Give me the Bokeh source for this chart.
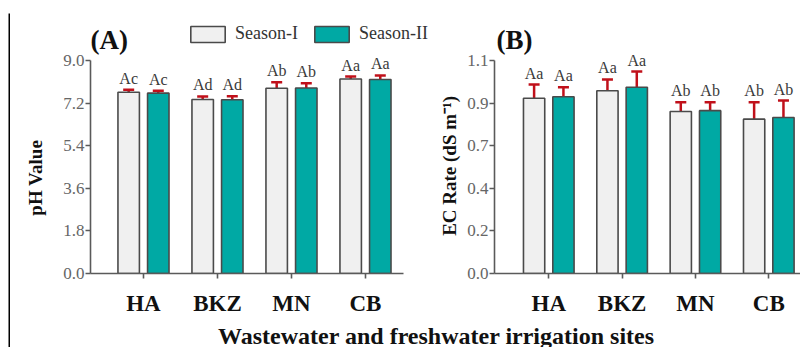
from bokeh.plotting import figure
from bokeh.models import (ColumnDataSource, FixedTicker, NumeralTickFormatter, Whisker,
                          TeeHead, Legend, LegendItem, Label, Range1d, Spacer)
from bokeh.layouts import row, column
from bokeh.embed import file_html
from bokeh.resources import INLINE
from bokeh.core.properties import value

# ---------------- data ----------------
sites = ["HA", "BKZ", "MN", "CB"]
site_pos = [1, 2, 3, 4]
season_names = ["Season-I", "Season-II"]

ph_s1 = [7.66, 7.35, 7.83, 8.22]
ph_s1_err = [0.10, 0.13, 0.25, 0.10]
ph_s2 = [7.62, 7.34, 7.84, 8.20]
ph_s2_err = [0.10, 0.15, 0.20, 0.17]
ph_letters = ["Ac", "Ad", "Ab", "Aa"]

ec_s1 = [0.905, 0.944, 0.837, 0.797]
ec_s1_err = [0.071, 0.058, 0.047, 0.087]
ec_s2 = [0.913, 0.962, 0.841, 0.806]
ec_s2_err = [0.049, 0.081, 0.043, 0.087]
ec_letters = ["Aa", "Aa", "Ab", "Ab"]

ph_ticks = [0.0, 1.8, 3.6, 5.4, 7.2, 9.0]
ec_ticks = [0.0, 0.22, 0.44, 0.66, 0.88, 1.1]

# ---------------- style ----------------
SERIF = "Liberation Serif"
C1 = "#f0f0f0"
C2 = "#00a9a4"
EDGE = "#4a4a4a"
ERR = "#c0101a"
AXC = "#5a5a5a"
OFF = 0.2
BW = 0.29
NB = "\u00a0"
FRAME_PX = 258.0   # frame height (figure top to x axis)
AXIS_PX = 213.0    # length of y axis line


def make_panel(s1, e1, s2, e2, letters, ticks, ymax, xstart, xend, xbound,
               width, left, tag, tag_x, ylabel, ylab_standoff):
    p = figure(width=width, height=303, output_backend="svg", toolbar_location=None,
               x_range=Range1d(xstart, xend),
               y_range=Range1d(0, ymax * FRAME_PX / AXIS_PX),
               min_border_left=left, min_border_right=0, min_border_top=0,
               min_border_bottom=45)
    p.outline_line_color = None
    p.xgrid.visible = False
    p.ygrid.visible = False
    renderers = []
    for vals, errs, off, col in ((s1, e1, -OFF, C1), (s2, e2, OFF, C2)):
        src = ColumnDataSource(dict(
            xd=[x + off for x in site_pos], top=vals,
            upper=[v + e for v, e in zip(vals, errs)], letter=letters))
        r = p.vbar(x="xd", top="top", width=BW, source=src, fill_color=col,
                   line_color=EDGE, line_width=1.6)
        renderers.append(r)
        w = Whisker(source=src, base="xd", lower="top", upper="upper",
                    dimension="height", line_color=ERR, line_width=2.5,
                    upper_head=TeeHead(size=11, line_color=ERR, line_width=2.5),
                    lower_head=None)
        p.add_layout(w)
        p.text(x="xd", y="upper", text="letter", source=src, text_align="center",
               text_baseline="bottom", y_offset=-3, text_font=value(SERIF),
               text_font_size="16px", text_color="#3a3a3a")

    # axes
    p.yaxis.ticker = FixedTicker(ticks=ticks)
    p.yaxis.formatter = NumeralTickFormatter(format="0.0")
    p.yaxis.bounds = (0, ymax)
    p.xaxis.ticker = FixedTicker(ticks=site_pos)
    p.xaxis.major_label_overrides = {pos: s for pos, s in zip(site_pos, sites)}
    p.xaxis.bounds = (xstart, xbound)
    for ax in (p.xaxis[0], p.yaxis[0]):
        ax.axis_line_color = AXC
        ax.axis_line_width = 1.6
        ax.major_tick_line_color = AXC
        ax.major_tick_line_width = 1.6
        ax.major_tick_in = 0
        ax.major_tick_out = 5
        ax.minor_tick_line_color = None
    p.yaxis.major_label_text_font = SERIF
    p.yaxis.major_label_text_font_size = "17px"
    p.yaxis.major_label_text_color = "#666666"
    p.yaxis.major_label_standoff = 1
    p.yaxis.axis_label = ylabel
    p.yaxis.axis_label_text_font = SERIF
    p.yaxis.axis_label_text_font_style = "bold"
    p.yaxis.axis_label_text_font_size = "19px"
    p.yaxis.axis_label_text_color = "#111111"
    p.yaxis.axis_label_standoff = ylab_standoff
    p.xaxis.major_label_text_font = SERIF
    p.xaxis.major_label_text_font_style = "bold"
    p.xaxis.major_label_text_font_size = "23px"
    p.xaxis.major_label_text_color = "#111111"
    p.xaxis.major_label_standoff = 12

    p.add_layout(Label(x=tag_x, y=219, x_units="screen", y_units="screen", text=tag,
                       text_font=SERIF, text_font_style="bold", text_font_size="27px",
                       text_color="#111111", text_baseline="bottom"))
    return p, renderers


p1, rs = make_panel(ph_s1, ph_s1_err, ph_s2, ph_s2_err, ph_letters, ph_ticks,
                    9.0, 0.284, 0.284 + 346 / 74, 4.514,
                    426, 80, "(A)", 0, "pH Value" + NB * 14, 14)
p2, _ = make_panel(ec_s1, ec_s1_err, ec_s2, ec_s2_err, ec_letters, ec_ticks,
                   1.1, 0.26, 0.26 + 310 / 74.3, 0.26 + 310 / 74.3,
                   364, 54, "(B)", 2, "EC Rate (dS m\u207b\u00b9)" + NB * 9, 4)

legend = Legend(items=[LegendItem(label=season_names[0], renderers=[rs[0]]),
                       LegendItem(label=season_names[1], renderers=[rs[1]])],
                location=(96, 229), orientation="horizontal", glyph_width=43,
                glyph_height=20, label_standoff=6, spacing=12, padding=0, margin=0,
                label_text_font=SERIF, label_text_font_size="18px",
                label_text_color="#333333", border_line_color=None,
                background_fill_alpha=0)
p1.add_layout(legend)

p3 = figure(width=790, height=29, output_backend="svg", toolbar_location=None,
            x_axis_type=None, y_axis_type=None, x_range=Range1d(0, 1),
            y_range=Range1d(0, 1), min_border=0)
p3.outline_line_color = None
p3.xgrid.visible = False
p3.ygrid.visible = False
p3.add_layout(Label(x=426, y=-1, x_units="screen", y_units="screen",
                    text="Wastewater and freshwater irrigation sites",
                    text_align="center", text_baseline="bottom",
                    text_font=SERIF, text_font_style="bold", text_font_size="24px",
                    text_color="#111111"))


def strip(w, h):
    b = figure(width=w, height=h, output_backend="svg", toolbar_location=None,
               title=None, x_axis_type=None, y_axis_type=None,
               x_range=Range1d(0, 1), y_range=Range1d(0, 1), min_border=0)
    b.outline_line_color = None
    b.xgrid.visible = False
    b.ygrid.visible = False
    b.background_fill_color = "black"
    b.border_fill_color = "black"
    return b


# border of the panel: black strips along the top and the left side
left_col = column(Spacer(width=2, height=13), strip(2, 334))
right_col = column(Spacer(width=790, height=13), strip(790, 2), row(p1, p2), p3)
layout = row(left_col, right_col, margin=(0, 0, 0, 8))

open("out.html", "w").write(file_html(layout, INLINE))
